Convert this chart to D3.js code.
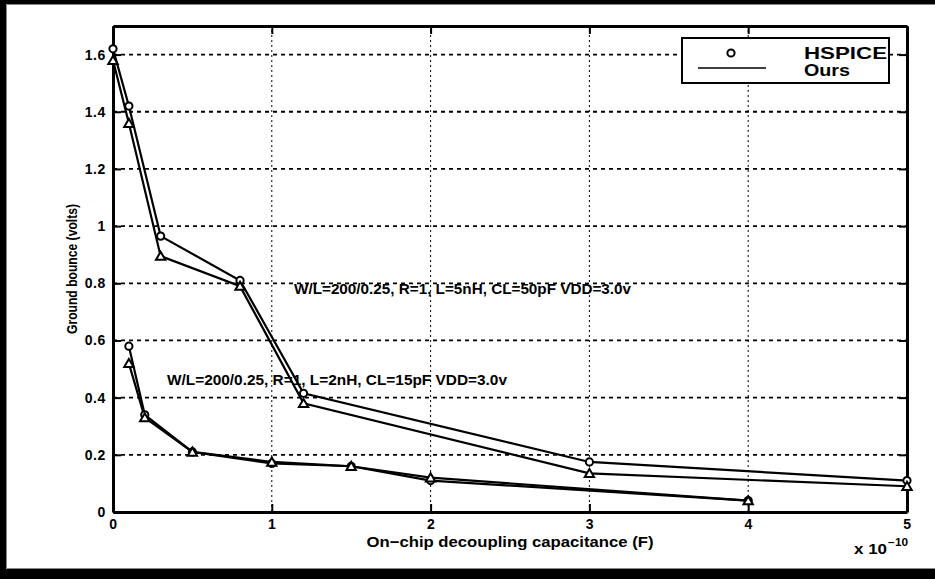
<!DOCTYPE html>
<html lang="en">
<head>
<meta charset="UTF-8" />
<title>Ground bounce vs on-chip decoupling capacitance</title>
<style>
  html, body {
    margin: 0;
    background: #fff;
    overflow: hidden;
  }
  svg {
    display: block;
    font-family: "Liberation Sans", Arial, sans-serif;
    font-weight: bold;
  }
  .axis path, .axis line {
    stroke: #000;
  }
  .axis path {
    stroke-width: 3px;
  }
  .axis line {
    stroke-width: 2px;
  }
  .axis text {
    font-size: 14px;
    font-weight: bold;
    letter-spacing: 0.6px;
    fill: #000;
  }
  .grid-h {
    stroke: #000;
    stroke-width: 1.8px;
    stroke-dasharray: 4,4;
  }
  .grid-v {
    stroke: #000;
    stroke-width: 1px;
    stroke-dasharray: 2,3;
  }
  .series {
    fill: none;
    stroke: #000;
    stroke-width: 2.2px;
  }
  .marker {
    fill: #fff;
    stroke: #000;
    stroke-width: 2px;
  }
</style>
</head>
<body>

<svg width="935" height="579"></svg>

<script src="https://d3js.org/d3.v7.min.js"></script>
<script>
// capacitance in units of 1e-10 F, ground bounce in volts
const capCase1 = [0, 0.1, 0.3, 0.8, 1.2, 3, 5];          // L=5nH, CL=50pF
const hspiceCase1 = [1.62, 1.42, 0.965, 0.81, 0.415, 0.175, 0.11];
const oursCase1 = [1.58, 1.36, 0.895, 0.79, 0.38, 0.135, 0.09];

const capCase2 = [0.1, 0.2, 0.5, 1, 1.5, 2, 4];          // L=2nH, CL=15pF
const hspiceCase2 = [0.58, 0.34, 0.21, 0.17, 0.16, 0.11, 0.04];
const oursCase2 = [0.52, 0.33, 0.21, 0.175, 0.16, 0.12, 0.04];

const xTicks = [0, 1, 2, 3, 4, 5];
const yTicks = [0, 0.2, 0.4, 0.6, 0.8, 1, 1.2, 1.4, 1.6];

const annotations = [
  { text: "W/L=200/0.25, R=1, L=5nH, CL=50pF VDD=3.0v", at: [1.14, 0.78], width: 337 },
  { text: "W/L=200/0.25, R=1, L=2nH, CL=15pF VDD=3.0v", at: [0.34, 0.46], width: 340 }
];

const svg = d3.select("svg");

// black frame: top, left and bottom bands of the scanned page
svg.append("rect").attr("x", 0).attr("y", 0).attr("width", 935).attr("height", 4).attr("fill", "#000");
svg.append("rect").attr("x", 0).attr("y", 0).attr("width", 6).attr("height", 579).attr("fill", "#000");
svg.append("rect").attr("x", 0).attr("y", 569).attr("width", 935).attr("height", 10).attr("fill", "#000");
svg.append("path")
  .attr("d", "M935,4.5H6.5V568.5H935")
  .attr("fill", "none").attr("stroke", "#888").attr("stroke-width", 1);

const x = d3.scaleLinear().domain([0, 5]).range([113, 907]);
const y = d3.scaleLinear().domain([0, 1.7]).range([512, 26]);

// grid lines
svg.append("g").selectAll("line")
  .data(yTicks.filter(d => d > 0))
  .join("line")
  .attr("class", "grid-h")
  .attr("x1", x(0)).attr("x2", x(5))
  .attr("y1", d => y(d)).attr("y2", d => y(d));

svg.append("g").selectAll("line")
  .data(xTicks.filter(d => d > 0 && d < 5))
  .join("line")
  .attr("class", "grid-v")
  .attr("x1", d => x(d)).attr("x2", d => x(d))
  .attr("y1", y(0)).attr("y2", y(1.7));

// axes, matlab style ticks pointing inward on all four sides
svg.append("g").attr("class", "axis")
  .attr("transform", `translate(0,${y(0)})`)
  .call(d3.axisBottom(x).tickValues(xTicks).tickFormat(d3.format("d")).tickSize(-8).tickPadding(7).tickSizeOuter(0));

svg.append("g").attr("class", "axis")
  .attr("transform", `translate(0,${y(1.7)})`)
  .call(d3.axisTop(x).tickValues(xTicks).tickFormat("").tickSize(-8).tickSizeOuter(0));

svg.append("g").attr("class", "axis")
  .attr("transform", `translate(${x(0)},0)`)
  .call(d3.axisLeft(y).tickValues(yTicks).tickFormat(d => d === 0 ? "0" : d3.format("")(d)).tickSize(-8).tickPadding(7).tickSizeOuter(0));

svg.append("g").attr("class", "axis")
  .attr("transform", `translate(${x(5)},0)`)
  .call(d3.axisRight(y).tickValues(yTicks).tickFormat("").tickSize(-8).tickSizeOuter(0));

// series lines
const line = d3.line().x(d => x(d[0])).y(d => y(d[1]));
const series = [
  { xs: capCase1, ys: hspiceCase1, mark: "circle" },
  { xs: capCase1, ys: oursCase1, mark: "triangle" },
  { xs: capCase2, ys: hspiceCase2, mark: "circle" },
  { xs: capCase2, ys: oursCase2, mark: "triangle" }
];

series.forEach(s => {
  const pts = s.xs.map((c, i) => [c, s.ys[i]]);
  svg.append("path").attr("class", "series").attr("d", line(pts));
});

// markers on top
const triangle = d3.symbol().type(d3.symbolTriangle).size(38);
series.forEach(s => {
  const pts = s.xs.map((c, i) => [c, s.ys[i]]);
  const g = svg.append("g");
  if (s.mark === "circle") {
    g.selectAll("circle").data(pts).join("circle")
      .attr("class", "marker")
      .attr("cx", d => x(d[0])).attr("cy", d => y(d[1]))
      .attr("r", 3.6);
  } else {
    g.selectAll("path").data(pts).join("path")
      .attr("class", "marker")
      .attr("d", triangle)
      .attr("transform", d => `translate(${x(d[0])},${y(d[1]) + 1})`);
  }
});

// case annotations
svg.append("g").selectAll("text")
  .data(annotations)
  .join("text")
  .attr("x", d => x(d.at[0]))
  .attr("y", d => y(d.at[1]))
  .attr("dominant-baseline", "central")
  .attr("font-size", 14)
  .attr("textLength", d => d.width)
  .attr("lengthAdjust", "spacingAndGlyphs")
  .text(d => d.text);

// axis titles
svg.append("text")
  .attr("x", (x(0) + x(5)) / 2).attr("y", 541)
  .attr("text-anchor", "middle")
  .attr("dominant-baseline", "central")
  .attr("font-size", 15)
  .attr("textLength", 287)
  .attr("lengthAdjust", "spacingAndGlyphs")
  .text("On\u2212chip decoupling capacitance (F)");

svg.append("text")
  .attr("transform", `translate(72,${(y(0) + y(1.7)) / 2}) rotate(-90)`)
  .attr("text-anchor", "middle")
  .attr("dominant-baseline", "central")
  .attr("font-size", 14)
  .attr("textLength", 130)
  .attr("lengthAdjust", "spacingAndGlyphs")
  .text("Ground bounce (volts)");

// x 10^-10 exponent
svg.append("text")
  .attr("x", 854).attr("y", 549)
  .attr("dominant-baseline", "central")
  .attr("font-size", 14)
  .attr("textLength", 33)
  .attr("lengthAdjust", "spacingAndGlyphs")
  .text("x 10");
svg.append("text")
  .attr("x", 888).attr("y", 542)
  .attr("dominant-baseline", "central")
  .attr("font-size", 10)
  .attr("textLength", 20)
  .attr("lengthAdjust", "spacingAndGlyphs")
  .text("\u221210");

// legend
const legend = svg.append("g");
legend.append("rect")
  .attr("x", 682).attr("y", 38)
  .attr("width", 207).attr("height", 45)
  .attr("fill", "#fff").attr("stroke", "#000").attr("stroke-width", 2);
legend.append("circle")
  .attr("class", "marker")
  .attr("cx", 731).attr("cy", 53).attr("r", 3.6);
legend.append("line")
  .attr("x1", 698).attr("x2", 766).attr("y1", 68).attr("y2", 68)
  .attr("stroke", "#000").attr("stroke-width", 1.6);
legend.append("text")
  .attr("x", 887).attr("y", 53)
  .attr("text-anchor", "end")
  .attr("dominant-baseline", "central")
  .attr("font-size", 17)
  .attr("textLength", 83)
  .attr("lengthAdjust", "spacingAndGlyphs")
  .text("HSPICE");
legend.append("text")
  .attr("x", 804).attr("y", 70)
  .attr("dominant-baseline", "central")
  .attr("font-size", 16)
  .attr("textLength", 46)
  .attr("lengthAdjust", "spacingAndGlyphs")
  .text("Ours");
</script>

</body>
</html>
